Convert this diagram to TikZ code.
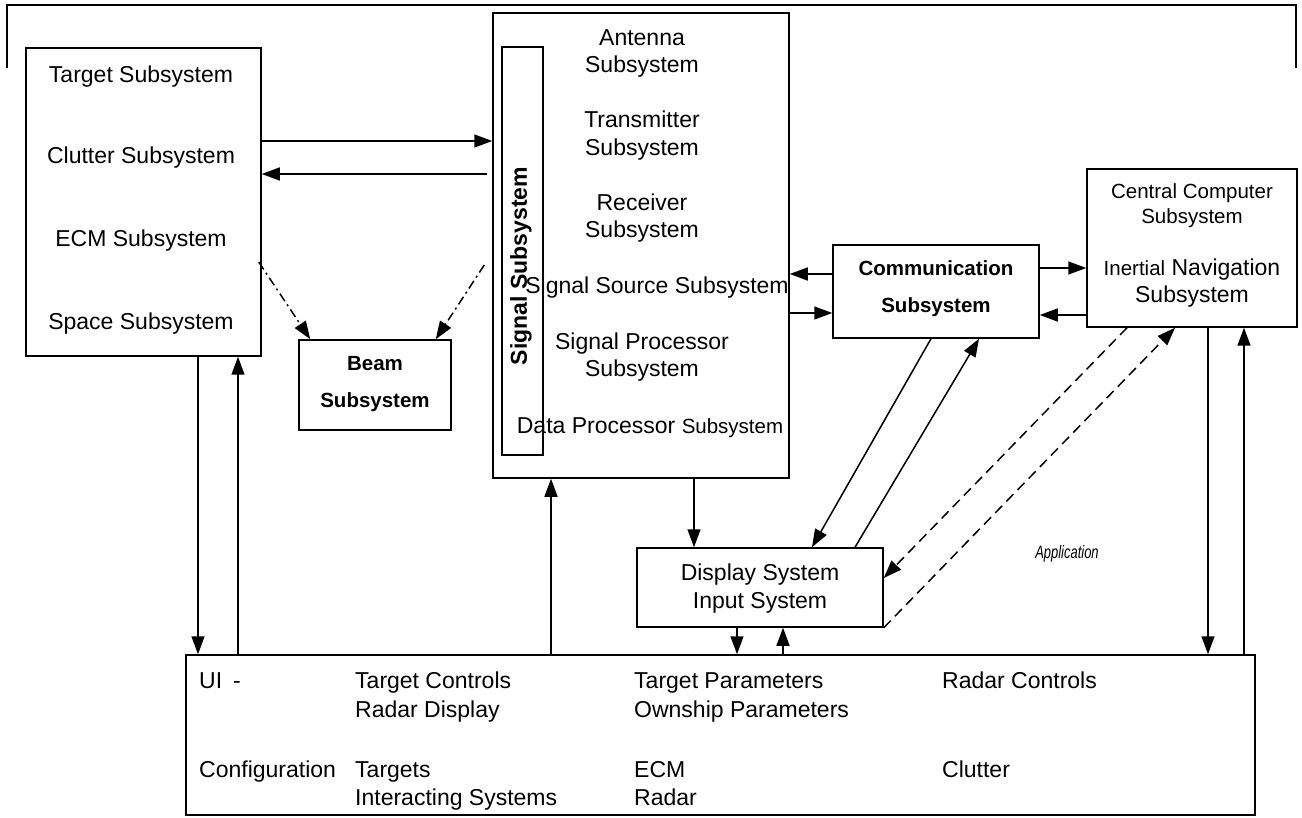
\documentclass[tikz,border=0pt]{standalone}
\usepackage{fontspec}
\setmainfont{Liberation Sans}
\usetikzlibrary{arrows.meta}
\begin{document}
\begin{tikzpicture}[x=1pt,y=-1pt,
  box/.style 2 args={draw, line width=1.5pt, inner sep=0pt, minimum width=#1pt, minimum height=#2pt},
  txt/.style={font=\fontsize{23}{27}\selectfont, anchor=base, inner sep=0pt},
  ltxt/.style={font=\fontsize{23}{27}\selectfont, anchor=base west, inner sep=0pt},
  smtxt/.style={font=\fontsize{20.5}{24}\selectfont, anchor=base, inner sep=0pt},
  btxt/.style={font=\fontsize{20.5}{24}\selectfont\bfseries, anchor=base, inner sep=0pt},
  arr/.style={line width=1.5pt, -{Triangle[length=18pt,width=13pt]}},
  dashdot/.style={dash pattern=on 9pt off 4pt on 2pt off 4pt},
  dsh/.style={dash pattern=on 10pt off 6pt}
]
\useasboundingbox (0,0) rectangle (1302,818);
% outer bracket
\draw[line width=2pt] (7,68) -- (7,5) -- (1296,5) -- (1296,68);

% boxes
\node[box={235}{308}] (L) at (143.5,202) {};
\node[box={296}{465}] (S) at (641,245.5) {};
\node[box={41}{408}] (SI) at (522.5,251) {};
\node[box={152}{90}] (B) at (375,385) {};
\node[box={206}{93}] (C) at (936,291.5) {};
\node[box={210}{158}] (CC) at (1192,248) {};
\node[box={246}{79}] (D) at (760,587.5) {};
\node[box={1069}{160}] (U) at (720.5,735) {};

% left box texts
\node[txt] (t1) at (141,83) {Target Subsystem};
\node[txt] (t2) at (141,164) {Clutter Subsystem};
\node[txt] (t3) at (141,247) {ECM Subsystem};
\node[txt] (t4) at (141,330) {Space Subsystem};

% signal box texts
\node[font=\fontsize{23}{27}\selectfont\bfseries, rotate=90, inner sep=0pt] (sv) at (521,266) {Signal Subsystem};
\node[txt] (s1) at (642,46) {Antenna};
\node[txt] (s1b) at (642,73) {Subsystem};
\node[txt] (s2) at (642,128) {Transmitter};
\node[txt] (s2b) at (642,156) {Subsystem};
\node[txt] (s3) at (642,211) {Receiver};
\node[txt] (s3b) at (642,238) {Subsystem};
\node[txt] (s4) at (657,294) {Signal Source Subsystem};
\node[txt] (s5) at (642,350) {Signal Processor};
\node[txt] (s5b) at (642,377) {Subsystem};
\node[txt] (s6) at (650,433) {Data Processor {\fontsize{20.5}{24}\selectfont Subsystem}};

% beam
\node[btxt] (b1) at (375,371) {Beam};
\node[btxt] (b2) at (375,408) {Subsystem};

% communication
\node[btxt] (c1) at (936,276) {Communication};
\node[btxt] (c2) at (936,313) {Subsystem};

% central computer
\node[smtxt] (cc1) at (1192,199) {Central Computer};
\node[smtxt] (cc2) at (1192,224) {Subsystem};
\node[txt] (cc3) at (1192,276) {{\fontsize{20.5}{24}\selectfont Inertial} Navigation};
\node[txt] (cc4) at (1192,303) {Subsystem};

% display
\node[txt] (d1) at (760,580) {Display System};
\node[txt] (d2) at (760,608) {Input System};

% application
\node[font=\fontsize{18}{20}\selectfont\itshape, anchor=base, inner sep=0pt] (app) at (1067,558) {\scalebox{0.72}[1]{Application}};

% UI texts
\node[ltxt] (u1) at (199,688) {UI};
\node[ltxt] (u2) at (233,688) {-};
\node[ltxt] (u3) at (355,688) {Target Controls};
\node[ltxt] (u4) at (355,717) {Radar Display};
\node[ltxt] (u5) at (634,688) {Target Parameters};
\node[ltxt] (u6) at (634,717) {Ownship Parameters};
\node[ltxt] (u7) at (942,688) {Radar Controls};
\node[ltxt] (u8) at (199,777) {Configuration};
\node[ltxt] (u9) at (355,777) {Targets};
\node[ltxt] (u10) at (355,805) {Interacting Systems};
\node[ltxt] (u11) at (634,777) {ECM};
\node[ltxt] (u12) at (634,805) {Radar};
\node[ltxt] (u13) at (942,777) {Clutter};

% connectors
\draw[arr] (L.east |- 0,141) -- (S.west |- 0,141);
\draw[arr] ([xshift=-5pt]S.west |- 0,174) -- (L.east |- 0,174);
\draw[arr, dashdot] ([xshift=-3pt]L.east |- 0,262) -- ([xshift=12pt]B.north west);
\draw[arr, dashdot] ([xshift=-8pt]S.west |- 0,265) -- ([xshift=-16pt]B.north east);
\draw[arr] (C.west |- 0,274) -- (S.east |- 0,274);
\draw[arr] (S.east |- 0,313) -- (C.west |- 0,313);
\draw[arr] (C.east |- 0,268) -- (CC.west |- 0,268);
\draw[arr] (CC.west |- 0,315) -- (C.east |- 0,315);
\draw[arr] (S.south -| 694,0) -- (D.north -| 694,0);
\draw[arr] ([xshift=-5pt]C.south) -- ([xshift=52pt]D.north);
\draw[arr] ([xshift=95pt]D.north) -- ([xshift=43pt]C.south);
\draw[arr, dsh] ([xshift=-65pt]CC.south) -- (D.east |- 0,578);
\draw[arr, dsh] (D.south east) -- ([xshift=-17pt]CC.south);
\draw[arr] (L.south -| 198,0) -- (U.north -| 198,0);
\draw[arr] (U.north -| 238,0) -- (L.south -| 238,0);
\draw[arr] (U.north -| 551,0) -- (S.south -| 551,0);
\draw[arr] (D.south -| 737,0) -- (U.north -| 737,0);
\draw[arr] (U.north -| 783,0) -- (D.south -| 783,0);
\draw[arr] (CC.south -| 1208,0) -- (U.north -| 1208,0);
\draw[arr] (U.north -| 1244,0) -- (CC.south -| 1244,0);
\end{tikzpicture}
\end{document}
